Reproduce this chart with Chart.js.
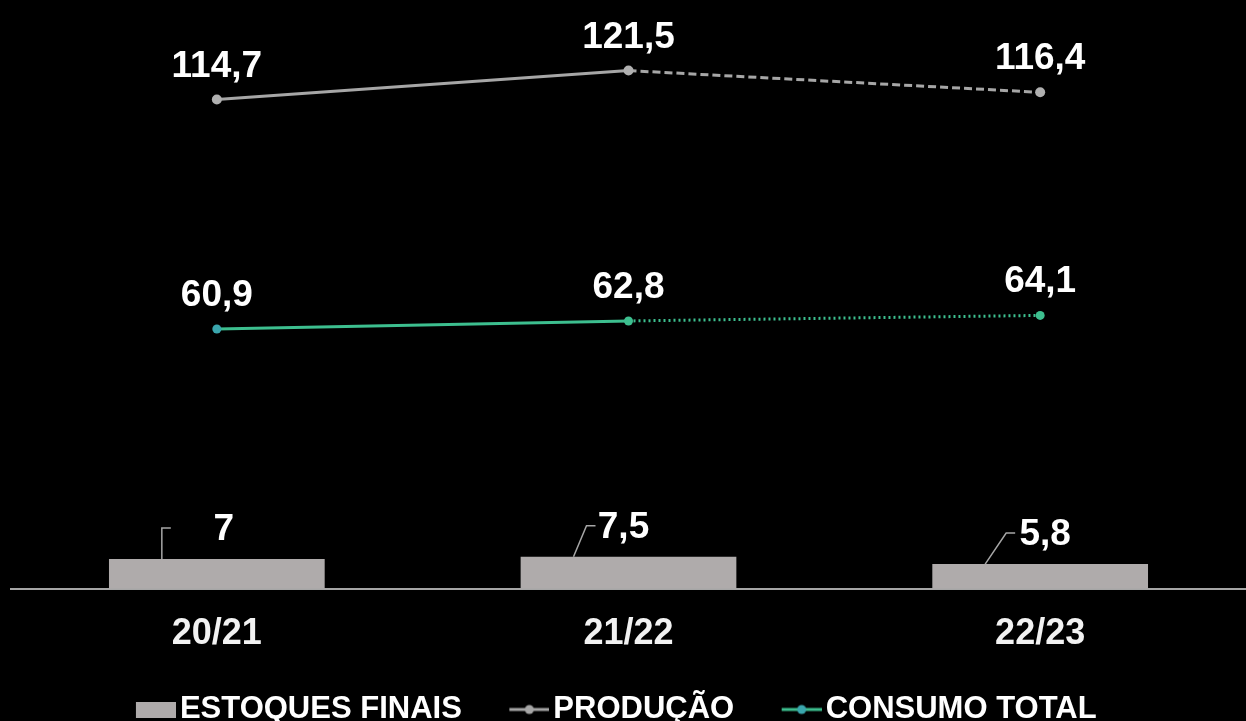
<!DOCTYPE html>
<html>
<head>
<meta charset="utf-8">
<script src="https://cdn.jsdelivr.net/npm/chart.js@4"></script>
<style>
  html, body { margin: 0; padding: 0; background: #000; }
  #wrap { width: 1246px; height: 721px; position: relative; }
</style>
</head>
<body>
<div id="wrap"><canvas id="safraChart"></canvas></div>
<script>
const safras = ['20/21', '21/22', '22/23'];
const estoquesFinais = [7, 7.5, 5.8];
const producao = [114.7, 121.5, 116.4];
const consumoTotal = [60.9, 62.8, 64.1];

const GREY = '#a6a6a6';
const BAR_GREY = '#afabab';
const TEAL = '#3dbf8f';
const TEAL_DOT = '#3aa6ad';
const FONT = "'Liberation Sans', Arial, sans-serif";

function fmt(v) {
  return String(v).replace('.', ',');
}

// legend markers: 85px wide canvas, the visible 40px sit on the right side
const MW = 85;
function boxMarker() {
  const c = document.createElement('canvas');
  c.width = MW; c.height = 16;
  const g = c.getContext('2d');
  g.fillStyle = BAR_GREY;
  g.fillRect(MW - 40, 0, 40, 16);
  return c;
}
function lineMarker(lineColor, dotColor) {
  const c = document.createElement('canvas');
  c.width = MW; c.height = 12;
  const g = c.getContext('2d');
  g.strokeStyle = lineColor;
  g.lineWidth = 3;
  g.beginPath(); g.moveTo(MW - 40, 6); g.lineTo(MW, 6); g.stroke();
  g.fillStyle = dotColor;
  g.beginPath(); g.arc(MW - 20, 6, 4.5, 0, Math.PI * 2); g.fill();
  return c;
}
// indexed by dataset: producao, consumo, estoques
const markers = [lineMarker(GREY, GREY), lineMarker(TEAL, TEAL_DOT), boxMarker()];

const valueLabels = {
  id: 'valueLabels',
  afterDatasetsDraw(chart, args, opts) {
    const ctx = chart.ctx;
    ctx.save();
    ctx.font = 'bold 37px ' + FONT;
    ctx.fillStyle = '#ffffff';
    ctx.textAlign = 'center';
    ctx.textBaseline = 'alphabetic';
    chart.data.datasets.forEach((ds, i) => {
      const meta = chart.getDatasetMeta(i);
      meta.data.forEach((el, j) => {
        const v = ds.data[j];
        if (ds.type === 'bar') {
          const top = el.y;
          const bx = el.x - 55;
          const tx = bx + opts.leaderSlant[j];
          ctx.strokeStyle = GREY;
          ctx.lineWidth = 1.5;
          ctx.beginPath();
          ctx.moveTo(bx, top);
          ctx.lineTo(tx, top - 31);
          ctx.lineTo(tx + 9, top - 31);
          ctx.stroke();
          ctx.fillText(fmt(v), el.x + opts.labelShift[j], top - 19);
        } else {
          ctx.fillText(fmt(v), el.x, el.y - 23);
        }
      });
    });
    ctx.restore();
  }
};

// the legend sits a bit left of centre in the original
const legendNudge = {
  id: 'legendNudge',
  afterLayout(chart, args, opts) {
    chart.legend.left += opts.dx;
    chart.legend.right += opts.dx;
  }
};

const dashFrom = (idx, dash) => ctx => ctx.p0DataIndex >= idx ? dash : undefined;

new Chart(document.getElementById('safraChart'), {
  data: {
    labels: safras,
    datasets: [
      {
        type: 'line',
        label: 'PRODUÇÃO',
        data: producao,
        borderColor: GREY,
        backgroundColor: GREY,
        borderWidth: 3,
        pointRadius: 5,
        pointBackgroundColor: '#b0b0b0',
        pointBorderWidth: 0,
        segment: { borderDash: dashFrom(1, [8, 4]) },
        order: 1
      },
      {
        type: 'line',
        label: 'CONSUMO TOTAL',
        data: consumoTotal,
        borderColor: TEAL,
        backgroundColor: TEAL,
        borderWidth: 3,
        pointRadius: 4.5,
        pointBackgroundColor: [TEAL_DOT, TEAL, TEAL],
        pointBorderWidth: 0,
        segment: { borderDash: dashFrom(1, [2, 3]) },
        order: 2
      },
      {
        type: 'bar',
        label: 'ESTOQUES FINAIS',
        data: estoquesFinais,
        backgroundColor: BAR_GREY,
        barPercentage: 0.524,
        categoryPercentage: 1,
        order: 3
      }
    ]
  },
  options: {
    responsive: true,
    maintainAspectRatio: false,
    animation: false,
    layout: { autoPadding: false, padding: { top: 13, left: 11, right: 0, bottom: -14 } },
    scales: {
      x: {
        offset: true,
        grid: { display: false, drawTicks: false },
        border: { display: true, color: GREY, width: 2 },
        ticks: {
          color: '#f2f2f2',
          padding: 24,
          font: { family: FONT, size: 36, weight: 'bold' }
        }
      },
      y: {
        display: false,
        min: 0,
        max: 135
      }
    },
    plugins: {
      tooltip: { enabled: false },
      legend: {
        position: 'bottom',
        labels: {
          color: '#ffffff',
          usePointStyle: true,
          pointStyleWidth: 62,
          padding: 14,
          font: { family: FONT, size: 31, weight: 'bold' },
          generateLabels(chart) {
            const items = Chart.defaults.plugins.legend.labels.generateLabels(chart);
            items.forEach(it => { it.pointStyle = markers[it.datasetIndex]; });
            // bar first, then the two lines
            return items.sort((a, b) => (a.datasetIndex + 1) % 3 - (b.datasetIndex + 1) % 3);
          }
        }
      },
      legendNudge: { dx: -29 },
      valueLabels: {
        leaderSlant: [0, 13, 21],
        labelShift: [7, -5, 5]
      }
    }
  },
  plugins: [valueLabels, legendNudge]
});
</script>
</body>
</html>
